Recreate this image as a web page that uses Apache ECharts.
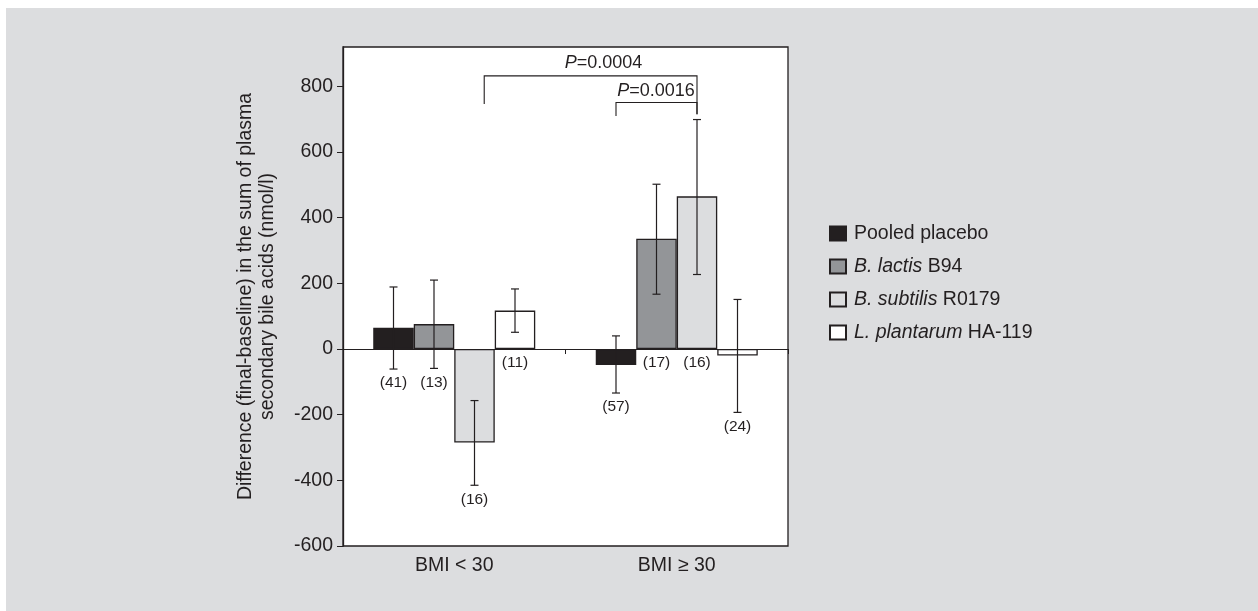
<!DOCTYPE html>
<html>
<head>
<meta charset="utf-8">
<script src="https://cdn.jsdelivr.net/npm/echarts@6/dist/echarts.min.js"></script>
<style>
html,body{margin:0;padding:0;background:#fff;}
#bg{position:absolute;left:6px;top:8px;right:0;bottom:0;background:#dcdddf;}
#chart{position:absolute;left:0;top:0;width:1258px;height:611px;}
</style>
</head>
<body>
<div id="bg"></div>
<div id="chart"></div>
<script>
// ---- data ----
const categories = ['BMI < 30', 'BMI \u2265 30'];
const seriesNames = ['Pooled placebo', 'B. lactis B94', 'B. subtilis R0179', 'L. plantarum HA-119'];
const legendItalic = ['', 'B. lactis', 'B. subtilis', 'L. plantarum'];
const legendPlain = ['Pooled placebo', 'B94', 'R0179', 'HA-119'];

const placeboMean = [65, -49];
const placeboLow = [-61, -134];
const placeboHigh = [189, 40];
const placeboN = ['(41)', '(57)'];

const lactisMean = [76, 336];
const lactisLow = [-59, 167];
const lactisHigh = [210, 502];
const lactisN = ['(13)', '(17)'];

const subtilisMean = [-285, 465];
const subtilisLow = [-415, 227];
const subtilisHigh = [-157, 699];
const subtilisN = ['(16)', '(16)'];

const plantarumMean = [117, -20];
const plantarumLow = [51, -193];
const plantarumHigh = [183, 151];
const plantarumN = ['(11)', '(24)'];

const yTicks = [-600, -400, -200, 0, 200, 400, 600, 800];

// significance brackets: [leftCat, leftSlot, rightCat, rightSlot, topY, leftBottomY, rightBottomY, textCat, textSlot, textY, pText]
const brackets = [
  [0, 2.24, 1, 2, 832, 746, 715, 1, -0.31, 872, '0.0004'],
  [1, 0, 1, 2, 751, 710, 715, 1, 0.99, 787, '0.0016']
];

// ---- styles ----
const FONT = "'Liberation Sans',Arial,sans-serif";
const FS = 19.5;
const INK = '#231f20';
const BAR_W = 40.5;
const colors = ['#231f20', '#939598', '#dcdddf', '#ffffff'];

const means = [placeboMean, lactisMean, subtilisMean, plantarumMean];
const lows = [placeboLow, lactisLow, subtilisLow, plantarumLow];
const highs = [placeboHigh, lactisHigh, subtilisHigh, plantarumHigh];
const ns = [placeboN, lactisN, subtilisN, plantarumN];

const errData = [];
for (let s = 0; s < 4; s++) {
  for (let c = 0; c < categories.length; c++) {
    errData.push([c, s, lows[s][c], highs[s][c], ns[s][c]]);
  }
}

const barSeries = seriesNames.map((name, i) => ({
  name: name,
  type: 'bar',
  xAxisIndex: 0,
  data: means[i],
  barWidth: BAR_W,
  barGap: '0%',
  itemStyle: {color: colors[i], borderColor: INK, borderWidth: 1.3},
  z: 2
}));

const errSeries = {
  type: 'custom',
  xAxisIndex: 0,
  data: errData,
  encode: {x: 0, y: [2, 3]},
  z: 5,
  silent: true,
  renderItem: function (params, api) {
    const c = api.value(0), s = api.value(1), lo = api.value(2), hi = api.value(3);
    const label = errData[params.dataIndex][4];
    const x = api.coord([c, 0])[0] + (s - 1.5) * BAR_W;
    const yLo = api.coord([c, lo])[1];
    const yHi = api.coord([c, hi])[1];
    const yAnchor = api.coord([c, Math.min(lo, 0)])[1];
    const cap = 4;
    const ls = {stroke: INK, lineWidth: 1.2};
    return {
      type: 'group',
      children: [
        {type: 'line', shape: {x1: x, y1: yLo, x2: x, y2: yHi}, style: ls},
        {type: 'line', shape: {x1: x - cap, y1: yLo, x2: x + cap, y2: yLo}, style: ls},
        {type: 'line', shape: {x1: x - cap, y1: yHi, x2: x + cap, y2: yHi}, style: ls},
        {type: 'text', x: x, y: yAnchor + 6, style: {text: label, fill: INK, font: '15.5px ' + FONT, align: 'center', verticalAlign: 'top'}}
      ]
    };
  }
};

const bracketSeries = {
  type: 'custom',
  xAxisIndex: 0,
  data: brackets.map(b => [b[0], b[4]]),
  z: 5,
  silent: true,
  renderItem: function (params, api) {
    const b = brackets[params.dataIndex];
    const xl = api.coord([b[0], 0])[0] + (b[1] - 1.5) * BAR_W;
    const xr = api.coord([b[2], 0])[0] + (b[3] - 1.5) * BAR_W;
    const yt = api.coord([0, b[4]])[1];
    const yl = api.coord([0, b[5]])[1];
    const yr = api.coord([0, b[6]])[1];
    const xt = api.coord([b[7], 0])[0] + (b[8] - 1.5) * BAR_W;
    const ytx = api.coord([0, b[9]])[1];
    return {
      type: 'group',
      children: [
        {type: 'polyline', shape: {points: [[xl, yl], [xl, yt], [xr, yt], [xr, yr]]}, style: {stroke: INK, lineWidth: 1.1, fill: null}},
        {type: 'text', x: xt, y: ytx, style: {
          rich: {i: {fontStyle: 'italic', fontSize: 18, fontFamily: FONT, fill: INK}, n: {fontSize: 18, fontFamily: FONT, fill: INK}},
          text: '{i|P}{n|=' + b[10] + '}', align: 'center', verticalAlign: 'middle'}}
      ]
    };
  }
};

const chart = echarts.init(document.getElementById('chart'), null, {renderer: 'canvas'});
chart.setOption({
  backgroundColor: 'transparent',
  animation: false,
  grid: {left: 343, top: 47, right: 470, bottom: 65, show: true, backgroundColor: '#ffffff', borderColor: INK, borderWidth: 1.3},
  legend: {
    orient: 'vertical', left: 824, top: 217, itemWidth: 16, itemHeight: 14, itemGap: 10,
    icon: 'rect',
    data: seriesNames,
    formatter: function (name) {
      const i = seriesNames.indexOf(name);
      return legendItalic[i] ? '{i|' + legendItalic[i] + '} ' + legendPlain[i] : legendPlain[i];
    },
    textStyle: {fontSize: FS, fontFamily: FONT, color: INK, lineHeight: 23, padding: [0, 0, 0, 3],
      rich: {i: {fontStyle: 'italic', fontSize: FS, fontFamily: FONT, color: INK, lineHeight: 23}}}
  },
  xAxis: [
    {type: 'category', data: categories, position: 'bottom',
      axisLine: {show: true, onZero: true, lineStyle: {color: INK, width: 1.1}},
      axisTick: {show: true, length: 5, lineStyle: {color: INK}},
      axisLabel: {show: false}, splitLine: {show: false}},
    {type: 'category', data: categories, position: 'bottom',
      axisLine: {show: false, onZero: false}, axisTick: {show: false},
      axisLabel: {show: true, fontSize: FS, fontFamily: FONT, color: INK, margin: 10},
      splitLine: {show: false}}
  ],
  yAxis: {
    type: 'value', min: -600, max: 920, interval: 200,
    axisLine: {show: true, lineStyle: {color: INK, width: 1.3}},
    axisTick: {show: true, length: 6, lineStyle: {color: INK}, customValues: yTicks},
    axisLabel: {fontSize: FS, fontFamily: FONT, color: INK, margin: 10, customValues: yTicks},
    splitLine: {show: false},
    name: 'Difference (final-baseline) in the sum of plasma\nsecondary bile acids (nmol/l)',
    nameLocation: 'middle', nameGap: 64,
    nameTextStyle: {fontSize: FS, fontFamily: FONT, color: INK, lineHeight: 22}
  },
  series: barSeries.concat([errSeries, bracketSeries])
});
</script>
</body>
</html>
